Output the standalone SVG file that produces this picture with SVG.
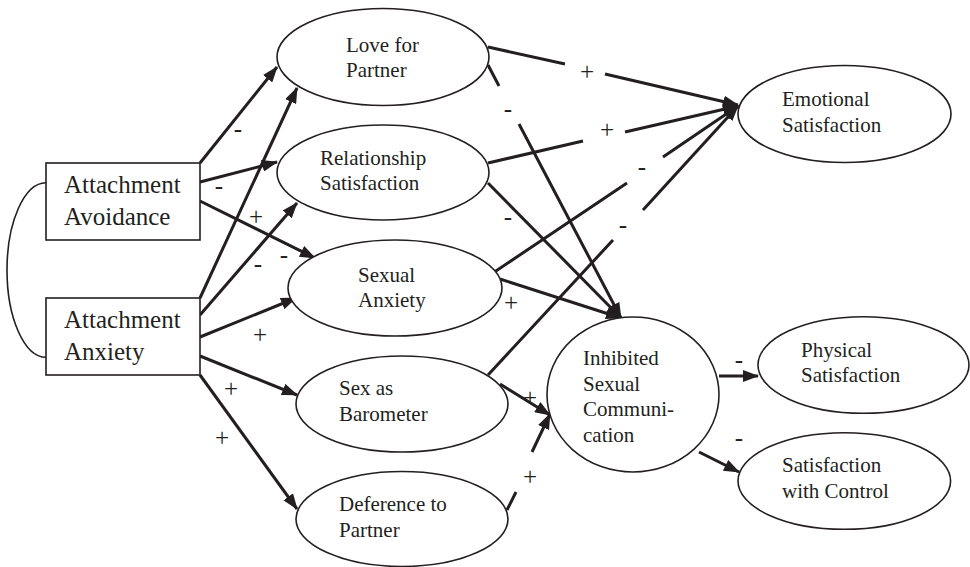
<svg xmlns="http://www.w3.org/2000/svg" width="970" height="567" viewBox="0 0 970 567">
<style>
.box{fill:#fff;stroke:#231f20;stroke-width:1.6}
.ell{fill:#fff;stroke:#231f20;stroke-width:1.6}
text{font-family:'Liberation Serif','Times New Roman','DejaVu Serif',serif;fill:#231f20}
.bt{font-size:25px}
.et{font-size:21px}
.lb{font-size:25px;text-anchor:middle}
.c{fill:none;stroke:#231f20;stroke-width:3;marker-end:url(#ah)}
.cv{fill:none;stroke:#231f20;stroke-width:1.6}
</style>
<defs>
<marker id="ah" markerUnits="userSpaceOnUse" markerWidth="16" markerHeight="12" refX="15" refY="6" orient="auto">
<path d="M0,0 L16,6 L0,12 z" fill="#231f20"/>
</marker>
</defs>
<rect width="970" height="567" fill="#fff"/>
<g id="connectors">
<path class="cv" d="M46,182.7 A39,87.3 0 0 0 46,357.3"/>
<path class="c" d="M200,163 L277,67"/>
<path class="c" d="M200,182 L277,162"/>
<path class="c" d="M200,201 L315,258"/>
<path class="c" d="M200,298 L297,88"/>
<path class="c" d="M200,315 L297,203"/>
<path class="c" d="M200,337 L296,298"/>
<path class="c" d="M200,356 L297,395"/>
<path class="c" d="M200,375 L297,509"/>
<path class="c" d="M488,47 L565,64 M605,74 L738,105"/>
<path class="c" d="M488,65 L499,86 M519,124 L621,318"/>
<path class="c" d="M488,163 L583,141 M625,132 L738,106"/>
<path class="c" d="M488,183 L621,318"/>
<path class="c" d="M487,277 L627,183 M663,157 L738,106"/>
<path class="c" d="M488,375 L613,240 M643,210 L738,106"/>
<path class="c" d="M500,279 L621,318"/>
<path class="c" d="M500,384 L550,415"/>
<path class="c" d="M507,510 L516,492 M532,452 L550,414"/>
<path class="c" d="M719,376 L758,376"/>
<path class="c" d="M699,452 L739,472"/>
<g id="labels">
<text class="lb" x="238" y="137">-</text>
<text class="lb" x="219" y="194">-</text>
<text class="lb" x="256" y="225">+</text>
<text class="lb" x="258" y="272">-</text>
<text class="lb" x="284" y="263">-</text>
<text class="lb" x="260" y="343">+</text>
<text class="lb" x="231" y="397">+</text>
<text class="lb" x="222" y="446">+</text>
<text class="lb" x="587" y="80">+</text>
<text class="lb" x="508" y="117">-</text>
<text class="lb" x="607" y="138">+</text>
<text class="lb" x="508" y="225">-</text>
<text class="lb" x="642" y="175">-</text>
<text class="lb" x="623" y="233">-</text>
<text class="lb" x="511" y="311">+</text>
<text class="lb" x="530" y="406">+</text>
<text class="lb" x="530" y="485">+</text>
<text class="lb" x="739" y="368">-</text>
<text class="lb" x="739" y="446">-</text>
</g>
</g>
<g id="avoidance">
<rect class="box" x="46" y="163" width="154" height="77"/>
<text class="bt" x="64" y="193">Attachment</text>
<text class="bt" x="64" y="225">Avoidance</text>
</g>
<g id="anxiety">
<rect class="box" x="46" y="298" width="154" height="77"/>
<text class="bt" x="64" y="328">Attachment</text>
<text class="bt" x="64" y="360">Anxiety</text>
</g>
<g id="love">
<ellipse class="ell" cx="383" cy="57" rx="106" ry="48.5"/>
<text class="et" x="346" y="52">Love for</text>
<text class="et" x="346" y="77">Partner</text>
</g>
<g id="relsat">
<ellipse class="ell" cx="383" cy="172.5" rx="106" ry="47.5"/>
<text class="et" x="320" y="165">Relationship</text>
<text class="et" x="320" y="190">Satisfaction</text>
</g>
<g id="sexanx">
<ellipse class="ell" cx="395" cy="288" rx="107" ry="48"/>
<text class="et" x="358" y="282">Sexual</text>
<text class="et" x="358" y="307">Anxiety</text>
</g>
<g id="barometer">
<ellipse class="ell" cx="402" cy="404" rx="106" ry="48"/>
<text class="et" x="339" y="395">Sex as</text>
<text class="et" x="339" y="421">Barometer</text>
</g>
<g id="deference">
<ellipse class="ell" cx="402" cy="519" rx="106" ry="47.5"/>
<text class="et" x="339" y="511">Deference to</text>
<text class="et" x="339" y="537">Partner</text>
</g>
<g id="emotional">
<ellipse class="ell" cx="844.5" cy="114" rx="106.5" ry="48.5"/>
<text class="et" x="782" y="106">Emotional</text>
<text class="et" x="782" y="132">Satisfaction</text>
</g>
<g id="inhibited">
<ellipse class="ell" cx="633" cy="394.5" rx="86" ry="77.5"/>
<text class="et" x="583" y="365">Inhibited</text>
<text class="et" x="583" y="391">Sexual</text>
<text class="et" x="583" y="416">Communi-</text>
<text class="et" x="583" y="442">cation</text>
</g>
<g id="physical">
<ellipse class="ell" cx="863.5" cy="365" rx="105.5" ry="48.3"/>
<text class="et" x="801" y="357">Physical</text>
<text class="et" x="801" y="382">Satisfaction</text>
</g>
<g id="control">
<ellipse class="ell" cx="844.3" cy="481" rx="106.3" ry="48.3"/>
<text class="et" x="782" y="472">Satisfaction</text>
<text class="et" x="782" y="498">with Control</text>
</g>
</svg>
